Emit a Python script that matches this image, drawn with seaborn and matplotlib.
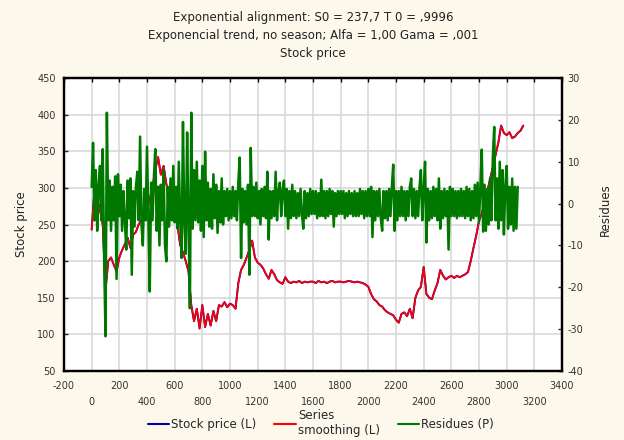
import numpy as np
import pandas as pd
import matplotlib
matplotlib.use('Agg')
import matplotlib.pyplot as plt
from matplotlib.lines import Line2D
import seaborn as sns

# stock price, one reading every 20 points of the series (0 .. 3120)
price_x = list(range(0, 3121, 20))
stock_price = [
    243, 298, 285, 270, 250, 160, 200, 205, 195, 186,   # 0 - 180
    205, 215, 223, 232, 218, 236, 240, 250, 256, 262,   # 200 - 380
    270, 285, 300, 325, 342, 318, 330, 305, 290, 278,   # 400 - 580
    265, 250, 222, 212, 200, 186, 140, 118, 135, 108,   # 600 - 780
    140, 110, 128, 112, 132, 118, 140, 138, 144, 137,   # 800 - 980
    142, 140, 135, 170, 188, 195, 205, 215, 228, 205,   # 1000 - 1180
    198, 195, 190, 182, 176, 188, 182, 174, 171, 169,   # 1200 - 1380
    178, 172, 170, 172, 171, 173, 170, 172, 171, 172,   # 1400 - 1580
    172, 170, 173, 171, 172, 170, 172, 173, 171, 172,   # 1600 - 1780
    172, 171, 172, 173, 172, 171, 172, 171, 170, 168,   # 1800 - 1980
    165, 155, 148, 145, 140, 138, 133, 130, 128, 126,   # 2000 - 2180
    120, 116, 128, 130, 125, 135, 122, 150, 160, 165,   # 2200 - 2380
    192, 155, 150, 148, 160, 170, 188, 180, 175, 178,   # 2400 - 2580
    180, 177, 180, 178, 180, 182, 185, 200, 218, 235,   # 2600 - 2780
    255, 265, 280, 295, 312, 328, 345, 362, 385, 375,   # 2800 - 2980
    372, 376, 368, 370, 375, 378, 385,                  # 3000 - 3120
]
# alfa = 1.00 -> the smoothed series follows the observed one
smoothing = list(stock_price)

# residues, one reading every 10 points (0 .. 3080)
resid_x = list(range(0, 3081, 10))
residues = [
    4, 14.5, -4, 8, -6.5, 4, 9, -4, 13, -13,             # 0
    -31.7, 21.7, -4, 5.5, -6.5, 4, -4, 6.5, -18, 7,      # 100
    -3, 4.5, -6.5, 3, -4, -11, 5.5, -3.5, 6, -17,        # 200
    3, -5.5, 4, 7.6, -4, 16, -5, -10, 3.5, -4,           # 300
    13.6, -4, -21, 5, -4, 6.5, 13, -6.5, 4, -10,         # 400
    4.5, -4, 8, -10, -13.8, 4, -5.5, 6, -4, 9,           # 500
    -4.5, 4, -6, 10, -4, -13, 19.5, -4.5, -12, 17,       # 600
    -4, -25, 21.7, -6, 8, -4, 10, -4.5, 5.5, -6.5,       # 700
    9, -8, 12.4, -4, 5, -5.5, 3.5, -6, 7, -3.5,          # 800
    4.5, -7, 3, -4.5, 6, -5, 3, -3, 3.5, -4,             # 900
    3, -3.5, 4, -3, 3, -4, 5, 11, -13, 3.5,              # 1000
    -4.5, 3, -5, 4.5, -17, 13.3, -3, 4, -3, 5,           # 1100
    -3.5, 3, -5, 3.5, -3, 4, -3.5, 7.6, -8.6, 3,         # 1200
    -3.5, 3, -3, 7.6, -4, 3, 5, -3, 3, 5.5,              # 1300
    -3, 3.5, -6, 3, -3.5, 4.5, -3, 3, -3.5, 2.5,         # 1400
    -3, 3.5, -2.5, -6, 3, -3.5, 2.5, -3, 3.5, -2.5,      # 1500
    3, -2.5, 3, -3.5, 2.5, -3, 5.7, -3, 3, -3.5,         # 1600
    3, -3, 3.5, -2.5, 3, -5.5, 2.5, -3, 3, -2.5,         # 1700
    3, -2.5, 3, -3.5, 2.5, -3, 3, -2.5, 2.5, -3,         # 1800
    3, -3, 2.5, -3, 3.5, -2.5, 3, -3.5, 3, -3,           # 1900
    3.5, -3, 4, -8, 3, -4, 3, -3, 3.5, -3.5,             # 2000
    -6.5, 3, -3.5, 3, -4, 3.5, -3, 4, 9.3, -6.5,         # 2100
    3, -4, 3, -3, 4, -3, 3, -4, 3, -3,                   # 2200
    4, 6, -3, 3.5, -3.5, 3, -3, 4, 8, -4,                # 2300
    3, 10, -9.3, 3.5, -4, 3, -3.5, 4, -3, 3.5,           # 2400
    -4, 6, -6, 3, -3.5, 3.5, -3, 3, -11, 4,              # 2500
    -3, 3.5, -3, 3, -3.5, 3, -3, 3.5, -3, 3,             # 2600
    -3.5, 4, -3, 3.5, -4, 3, -3.5, 4.5, -3, 5,           # 2700
    -4.5, 4, 12.9, -6.7, 4.5, -6.5, 3.5, -5, 6, -4,      # 2800
    11.2, 18.3, -4, 6, -6, 10, -4, 8, -7.4, 4,           # 2900
    9, -6, 4, -5, 6, -6.5, 4, -6, 4,                     # 3000
]

x_row1 = [-200, 200, 600, 1000, 1400, 1800, 2200, 2600, 3000, 3400]
x_row2 = [0, 400, 800, 1200, 1600, 2000, 2400, 2800, 3200]
left_ticks = [50, 100, 150, 200, 250, 300, 350, 400, 450]
right_ticks = [-40, -30, -20, -10, 0, 10, 20, 30]

title_lines = ['Exponential alignment: S0 = 237,7 T 0 = ,9996',
               'Exponencial trend, no season; Alfa = 1,00 Gama = ,001',
               'Stock price']

bg = '#FCF8EC'
c_blue = '#0000A8'
c_red = '#FF0000'
c_green = '#007800'

sns.set_style('white')
plt.rcParams['font.family'] = ['DejaVu Sans']
plt.rcParams['path.simplify'] = False

fig = plt.figure(figsize=(6.24, 4.4), dpi=100, facecolor=bg)
ax = fig.add_axes([64 / 624, 1 - 371 / 440, 498 / 624, 293 / 440])
ax.set_facecolor('white')
ax2 = ax.twinx()

sns.lineplot(x=price_x, y=stock_price, ax=ax, color=c_blue, lw=1.4,
             estimator=None, sort=False, legend=False)
sns.lineplot(x=price_x, y=smoothing, ax=ax, color=c_red, lw=1.2,
             estimator=None, sort=False, legend=False)
sns.lineplot(x=resid_x, y=residues, ax=ax2, color=c_green, lw=1.8,
             estimator=None, sort=False, legend=False)

ax.set_xlim(-200, 3400)
ax.set_ylim(50, 450)
ax2.set_ylim(-40, 30)

ax.set_xticks(x_row1, labels=[str(v) for v in x_row1])
ax.set_xticks(x_row2, labels=[str(v) for v in x_row2], minor=True)
ax.set_yticks(left_ticks, labels=[str(v) for v in left_ticks])
ax2.set_yticks(right_ticks, labels=[str(v) for v in right_ticks])

ax.tick_params(axis='x', which='both', direction='in', top=True, length=3,
               width=1, labelsize=7, colors='black')
ax.tick_params(axis='x', which='major', pad=7)
ax.tick_params(axis='x', which='minor', pad=19)
ax.tick_params(axis='y', direction='in', length=3, width=1, labelsize=7, pad=6)
ax2.tick_params(axis='y', direction='in', length=3, width=1, labelsize=7, pad=4)
for t in ax.get_xticklabels(which='both') + ax.get_yticklabels() + ax2.get_yticklabels():
    t.set_color('#333333')

ax.grid(True, which='both', axis='x', color='#d6d6d6', lw=1.1)
ax.grid(True, which='major', axis='y', color='#d6d6d6', lw=1.1)
ax.set_axisbelow(True)
for a in (ax, ax2):
    for s in a.spines.values():
        s.set_color('black')
        s.set_linewidth(1.6)

ax.set_xlabel('')
ax.set_ylabel('')
ax2.set_ylabel('')
fig.text(21 / 624, 1 - 224 / 440, 'Stock price', rotation=90, ha='center', va='center',
         fontsize=8.5, color='#222222')
fig.text(605 / 624, 1 - 210 / 440, 'Residues', rotation=90, ha='center', va='center',
         fontsize=8.5, color='#222222')

for i, line in enumerate(title_lines):
    fig.text(313 / 624, 1 - (17 + 18 * i) / 440, line, ha='center', va='center',
             fontsize=8.5, color='#222222')

handles = [Line2D([], [], color=c_blue, lw=1.5),
           Line2D([], [], color=c_red, lw=1.5),
           Line2D([], [], color=c_green, lw=1.5)]
labels = ['Stock price (L)', 'Series\nsmoothing (L)', 'Residues (P)']
fig.legend(handles, labels, loc='center', bbox_to_anchor=(321 / 624, 1 - 423 / 440),
           ncol=3, frameon=False, fontsize=8.5, handlelength=1.8, handletextpad=0.2,
           columnspacing=1.5, borderpad=0, labelspacing=0)

plt.savefig('out.png', dpi=100, facecolor=bg)
